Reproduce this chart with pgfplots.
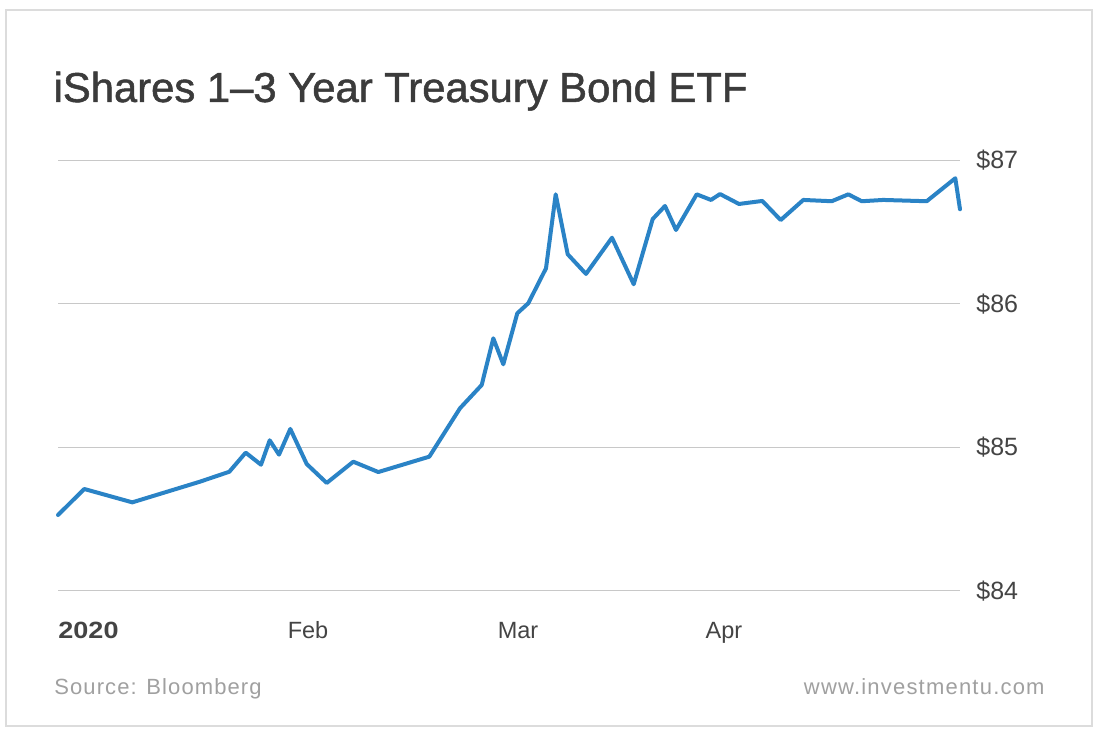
\documentclass[border=0pt]{standalone}
\usepackage{fontspec}
\setmainfont{Liberation Sans}
\newfontfamily\titlefont[FakeBold=1.2]{Liberation Sans}
\usepackage{pgfplots}
\pgfplotsset{compat=1.18}
\definecolor{titlegray}{HTML}{3B3B3B}
\definecolor{labgray}{HTML}{444444}
\definecolor{srcgray}{HTML}{A0A0A0}
\definecolor{gridgray}{HTML}{C8C8C8}
\definecolor{framegray}{HTML}{DCDCDC}
\definecolor{lineblue}{HTML}{2A83C6}
\begin{document}
\begin{tikzpicture}[x=1pt,y=1pt]
\useasboundingbox[fill=white] (-29,-71.5) rectangle (521,295.5);
\draw[framegray, line width=0.75pt] (-26,-67.5) rectangle (517,290.5);
\node[anchor=base west, inner sep=0pt, text=titlegray, font=\titlefont\fontsize{20.9pt}{24pt}\selectfont] at (-2.4,244.5) {iShares 1–3 Year Treasury Bond ETF};
\begin{axis}[
  at={(0pt,0pt)}, anchor=south west,
  scale only axis, width=451pt, height=215.5pt,
  xmin=58, xmax=960, ymin=84, ymax=87,
  clip=false,
  axis line style={draw=none},
  tick style={draw=none},
  major tick length=0pt,
  ymajorgrids,
  grid style={gridgray, line width=0.5pt},
  ytick={84,85,86,87},
  yticklabels={\$84,\$85,\$86,\$87},
  yticklabel pos=right,
  yticklabel style={anchor=west, inner sep=0pt, xshift=8pt, text=labgray, font=\fontsize{12.5pt}{14pt}\selectfont},
  xtick={88.5,308,518,724},
  xticklabels={\scalebox{1.15}[1]{\textbf{2020}},Feb,Mar,Apr},
  xticklabel style={anchor=base, inner sep=0pt, yshift=-24pt, text=labgray, font=\fontsize{11.75pt}{14pt}\selectfont},
]
\addplot[lineblue, line width=2pt, line join=round, line cap=round] coordinates {
(58,84.529) (84.3,84.710) (132.3,84.617) (200,84.761) (229.3,84.830)
(245.7,84.963) (261,84.879) (269.7,85.049) (279,84.949) (290.3,85.128)
(306.7,84.884) (326.7,84.752) (353.3,84.900) (378.3,84.828) (429.3,84.935)
(460,85.272) (481.7,85.434) (493.3,85.759) (503.3,85.578) (517.3,85.933)
(528.3,86.003) (546,86.246) (555.7,86.761) (567.7,86.344) (586,86.207)
(612,86.459) (633.7,86.135) (652.7,86.589) (665,86.680) (676,86.513)
(696.7,86.761) (711,86.722) (720,86.763) (739,86.694) (762.3,86.715)
(780.7,86.582) (803.3,86.722) (831.7,86.713) (848.3,86.761) (861.7,86.713)
(883.3,86.722) (926.7,86.713) (955.3,86.873) (960,86.657)
};
\end{axis}
\node[anchor=base west, inner sep=0pt, text=srcgray, font=\fontsize{11pt}{13pt}\selectfont\addfontfeatures{LetterSpace=5}] at (-2,-52) {Source: Bloomberg};
\node[anchor=base east, inner sep=0pt, text=srcgray, font=\fontsize{11pt}{13pt}\selectfont\addfontfeatures{LetterSpace=5.5}] at (493.5,-52) {www.investmentu.com};
\end{tikzpicture}
\end{document}
